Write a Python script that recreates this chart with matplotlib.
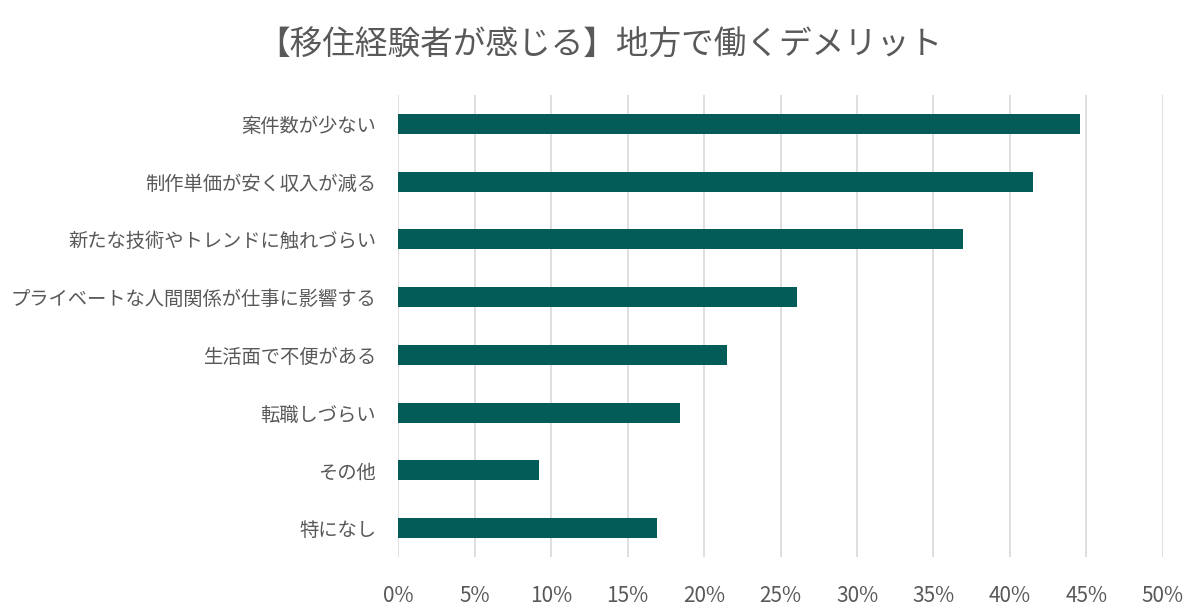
import matplotlib
matplotlib.use("Agg")
import matplotlib.pyplot as plt
from matplotlib.ticker import PercentFormatter

plt.rcParams["font.family"] = ["Noto Sans CJK JP", "DejaVu Sans"]

# 回答項目（上から順）と割合 [%]
categories = [
    "案件数が少ない",
    "制作単価が安く収入が減る",
    "新たな技術やトレンドに触れづらい",
    "プライベートな人間関係が仕事に影響する",
    "生活面で不便がある",
    "転職しづらい",
    "その他",
    "特になし",
]
values = [44.6, 41.5, 36.9, 26.1, 21.5, 18.4, 9.2, 16.9]
x_ticks = [0, 5, 10, 15, 20, 25, 30, 35, 40, 45, 50]

TITLE = "【移住経験者が感じる】地方で働くデメリット"
BAR_COLOR = "#035c57"
TEXT_COLOR = "#595959"
GRID_COLOR = "#d9d9d9"

fig = plt.figure(figsize=(12, 6.13), dpi=100, facecolor="white")
ax = fig.add_axes([0.332, 0.0914, 0.637, 0.7536])

ypos = list(range(len(categories)))
ax.barh(ypos, values, height=0.345, color=BAR_COLOR, zorder=3)

ax.set_ylim(len(categories) - 0.5, -0.5)
ax.set_xlim(0, 50)
ax.set_xticks(x_ticks)
ax.xaxis.set_major_formatter(PercentFormatter(decimals=0))
ax.set_yticks(ypos)
ax.set_yticklabels(categories)

ax.grid(axis="x", color=GRID_COLOR, linewidth=1.2, zorder=0)
for s in ax.spines.values():
    s.set_visible(False)
ax.tick_params(axis="both", length=0, colors=TEXT_COLOR)
ax.tick_params(axis="x", labelsize=15, pad=20)
ax.tick_params(axis="y", labelsize=13.9, pad=16)

fig.text(0.5, 0.925, TITLE, ha="center", va="center",
         fontsize=23.5, color=TEXT_COLOR)

fig.savefig("out.png", dpi=100, facecolor=fig.get_facecolor())
plt.close(fig)
